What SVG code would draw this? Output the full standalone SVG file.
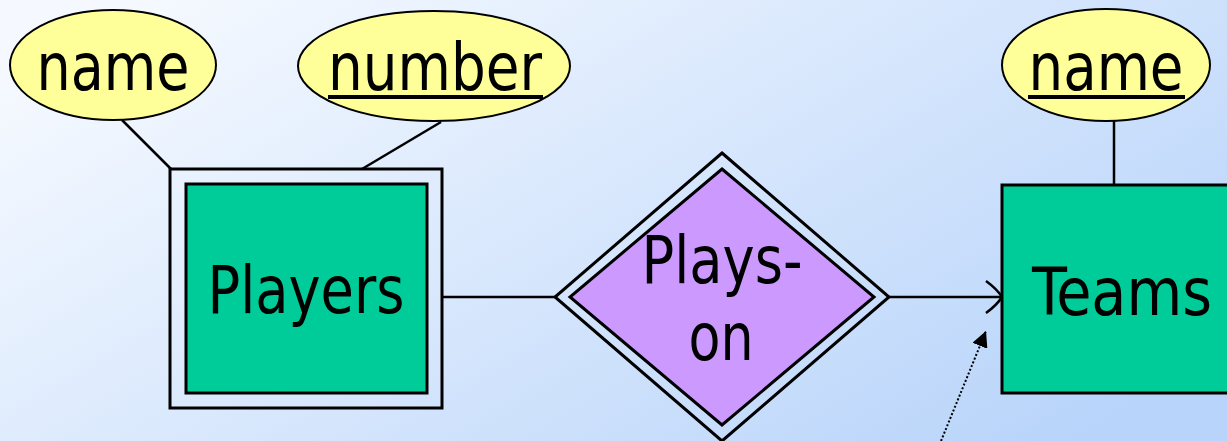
<svg xmlns="http://www.w3.org/2000/svg" width="1227" height="441" viewBox="0 0 1227 441">
<defs>
<linearGradient id="bg" x1="0" y1="0.2" x2="1" y2="0.8">
<stop offset="0" stop-color="#f5f9ff"/>
<stop offset="1" stop-color="#b8d4fa"/>
</linearGradient>
<marker id="tri" viewBox="0 0 10 10" refX="10" refY="5" markerWidth="16" markerHeight="16" markerUnits="userSpaceOnUse" orient="auto">
<path d="M0,0 L10,5 L0,10 Z" fill="#000"/>
</marker>
<style>
.t{font-family:"DejaVu Sans Condensed","DejaVu Sans",sans-serif;font-size:66px;fill:#000;text-anchor:middle}
.attr{fill:#ffff99;stroke:#000;stroke-width:2}
.ent{fill:#00cc99;stroke:#000;stroke-width:3}
.frame{fill:none;stroke:#000;stroke-width:3}
.rel{fill:#cc99ff;stroke:#000;stroke-width:3}
.ln{stroke:#000;stroke-width:2.5;fill:none}
.ul{stroke:#000;stroke-width:4}
</style>
</defs>
<rect width="1227" height="441" fill="url(#bg)"/>
<g id="connectors">
<line class="ln" x1="122" y1="120" x2="171" y2="169"/>
<line class="ln" x1="441" y1="122" x2="362" y2="169"/>
<line class="ln" x1="1114" y1="121" x2="1114" y2="185"/>
<line class="ln" x1="442" y1="297" x2="555" y2="297"/>
<line class="ln" x1="889" y1="297" x2="1002" y2="297"/>
<path class="ln" d="M986,281 Q997,289 1002,297 Q997,305 986,313"/>
<line x1="941" y1="441" x2="986" y2="331" stroke="#000" stroke-width="2" stroke-dasharray="2,2" marker-end="url(#tri)"/>
</g>
<g id="attr-player-name">
<ellipse class="attr" cx="113" cy="65" rx="103" ry="55"/>
<text class="t" x="113" y="90" textLength="153" lengthAdjust="spacingAndGlyphs">name</text>
</g>
<g id="attr-player-number">
<ellipse class="attr" cx="434" cy="66" rx="136" ry="55"/>
<text class="t" x="435" y="90" textLength="214" lengthAdjust="spacingAndGlyphs">number</text>
<line class="ul" x1="328" y1="97" x2="543" y2="97"/>
</g>
<g id="attr-team-name">
<ellipse class="attr" cx="1106" cy="65" rx="104" ry="56"/>
<text class="t" x="1106" y="90" textLength="155" lengthAdjust="spacingAndGlyphs">name</text>
<line class="ul" x1="1028" y1="97" x2="1185" y2="97"/>
</g>
<g id="players">
<rect class="frame" x="170" y="169" width="272" height="239"/>
<rect class="ent" x="186" y="184" width="241" height="209"/>
<text class="t" x="306" y="313" textLength="197" lengthAdjust="spacingAndGlyphs">Players</text>
</g>
<g id="plays-on">
<polygon class="frame" points="722,153 889,297 722,441 555,297"/>
<polygon class="rel" points="722,169 874,297 722,425 570,297"/>
<text class="t" x="722" y="283" textLength="161" lengthAdjust="spacingAndGlyphs">Plays-</text>
<text class="t" x="721" y="360" textLength="65" lengthAdjust="spacingAndGlyphs">on</text>
</g>
<g id="teams">
<rect class="ent" x="1002" y="185" width="240" height="208"/>
<text class="t" x="1122" y="315" textLength="180" lengthAdjust="spacingAndGlyphs">Teams</text>
</g>
</svg>
